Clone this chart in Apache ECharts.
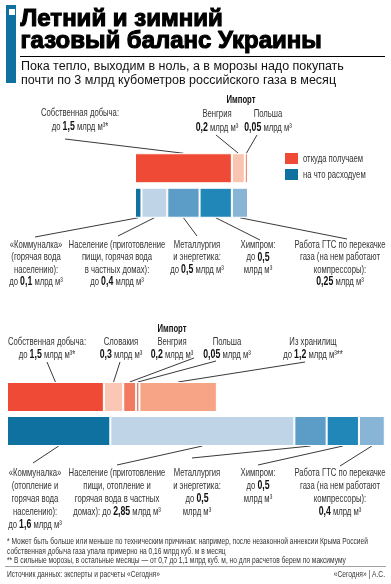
<!DOCTYPE html>
<html><head><meta charset="utf-8">
<script src="https://cdn.jsdelivr.net/npm/echarts@6/dist/echarts.min.js"></script>
<style>html,body{margin:0;padding:0;background:#fff}#c{width:391px;height:584px}</style>
</head><body><div id="c"></div>
<script>
// ---- data ----
const rows = ['откуда получаем', 'на что расходуем'];
const summerSupplyNames = ['Собственная добыча', 'Венгрия', 'Польша'];
const summerSupply = [1.5, 0.2, 0.05];
const summerUseNames = ['Коммуналка', 'Население', 'Металлургия и энергетика', 'Химпром', 'Работа ГТС'];
const summerUse = [0.1, 0.4, 0.5, 0.5, 0.25];
const winterSupplyNames = ['Собственная добыча', 'Словакия', 'Венгрия', 'Польша', 'Из хранилищ'];
const winterSupply = [1.5, 0.3, 0.2, 0.05, 1.2];
const winterUseNames = ['Коммуналка', 'Население', 'Металлургия и энергетика', 'Химпром', 'Работа ГТС'];
const winterUse = [1.6, 2.85, 0.5, 0.5, 0.4];

// ---- styles ----
const summerSupplyColors = ['#ef4a36', '#f9c4b0', '#f2906f'];
const winterSupplyColors = ['#ef4a36', '#f9c7b3', '#f27b5f', '#c9735a', '#f7a386'];
const useColors = ['#0f71a0', '#bfd5e7', '#5b9dc6', '#2186b8', '#88b4d6'];
const NF = "'Liberation Sans',Arial,sans-serif";
const BF = "'Liberation Sans',Arial,sans-serif";

function barSeries(g, names, vals, colors, row) {
  return vals.map((v, i) => ({
    type: 'bar', name: names[i], xAxisIndex: g, yAxisIndex: g, stack: 'g' + g,
    barWidth: 30, silent: true,
    itemStyle: { color: colors[i], borderColor: '#fff', borderWidth: 1 },
    data: row === 0 ? [v, '-'] : ['-', v]
  }));
}

const chart = echarts.init(document.getElementById('c'), null, { renderer: 'canvas' });
chart.setOption({
  animation: false,
  backgroundColor: '#fff',
  grid: [
    { left: 135, top: 151, width: 226, height: 69 },
    { left: 7, top: 380, width: 381, height: 68 }
  ],
  xAxis: [
    { type: 'value', gridIndex: 0, min: 0, max: 3.5, show: false },
    { type: 'value', gridIndex: 1, min: 0, max: 5.9, show: false }
  ],
  yAxis: [
    { type: 'category', gridIndex: 0, data: rows, inverse: true, show: false },
    { type: 'category', gridIndex: 1, data: rows, inverse: true, show: false }
  ],
  series: [].concat(
    barSeries(0, summerSupplyNames, summerSupply, summerSupplyColors, 0),
    barSeries(0, summerUseNames, summerUse, useColors, 1),
    barSeries(1, winterSupplyNames, winterSupply, winterSupplyColors, 0),
    barSeries(1, winterUseNames, winterUse, useColors, 1)
  )
});

// ---- annotations ----
const G = [];
const richB = { b: { fontFamily: BF, fontWeight: 'bold', fontSize: 12.5, fill: '#111', color: '#111' } };
function txt(x, y, text, o) {
  o = o || {};
  const sx = o.sx == null ? 0.7 : o.sx;
  const st = {
    text: text, x: 0, y: 0, fill: o.fill || '#333',
    fontFamily: o.ff || NF, fontSize: o.fs || 11, fontWeight: o.fw || 'normal',
    textAlign: o.al || 'center', align: o.al || 'center',
    textVerticalAlign: 'middle', verticalAlign: 'middle',
    rich: richB
  };
  if (o.stroke) { st.stroke = o.stroke; st.lineWidth = o.lw || 1; }
  G.push({ type: 'text', x: x, y: y, scaleX: sx, scaleY: 1, originX: 0, originY: 0, silent: true, style: st });
}
function block(x, y, lines, lh, o) { lines.forEach((l, i) => txt(x, y + i * lh, l, o)); }
function seg(x1, y1, x2, y2, c, w) {
  G.push({ type: 'line', silent: true, shape: { x1, y1, x2, y2 }, style: { stroke: c || '#222', lineWidth: w || 0.9 } });
}
function anchor(g, vals, idx, row) {
  let s = 0; for (let i = 0; i < idx; i++) s += vals[i];
  const p = chart.convertToPixel({ gridIndex: g }, [s + vals[idx] / 2, row]);
  return [p[0], row === 0 ? p[1] - 15 : p[1] + 15];
}
function leader(x, y, g, vals, idx, row) { const a = anchor(g, vals, idx, row); seg(x, y, a[0], a[1]); }

// header
G.push({ type: 'rect', shape: { x: 6, y: 5, width: 10, height: 78 }, style: { fill: '#0f71a0' } });
G.push({ type: 'rect', shape: { x: 9, y: 9, width: 6, height: 6 }, style: { fill: '#fff' } });
const tOpt = { ff: BF, fs: 24, fw: 'bold', fill: '#000', al: 'left', sx: 1, stroke: '#000', lw: 1.1 };
txt(20.5, 19, 'Летний и зимний', tOpt);
txt(20.5, 41, 'газовый баланс Украины', tOpt);
seg(20, 56.5, 385, 56.5, '#000', 1.2);
txt(21, 67, 'Пока тепло, выходим в ноль, а в морозы надо покупать', { ff: BF, fs: 12.5, fill: '#111', al: 'left', sx: 1 });
txt(21, 81, 'почти по 3 млрд кубометров российского газа в месяц', { ff: BF, fs: 12.5, fill: '#111', al: 'left', sx: 1 });

// summer chart
txt(241, 100, 'Импорт', { fs: 11, fw: 'bold', fill: '#111' });
block(80, 113, ['Собственная добыча:', 'до {b|1,5} млрд м³*'], 13.5);
leader(65, 139, 0, summerSupply, 0, 0);
block(217, 114, ['Венгрия', '{b|0,2} млрд м³'], 13.5);
leader(216, 135, 0, summerSupply, 1, 0);
block(268, 114, ['Польша', '{b|0,05} млрд м³'], 13.5);
leader(257, 135, 0, summerSupply, 2, 0);

G.push({ type: 'rect', shape: { x: 285, y: 153, width: 13, height: 11 }, style: { fill: '#ef4a36' } });
txt(303, 158.5, rows[0], { al: 'left' });
G.push({ type: 'rect', shape: { x: 285, y: 169, width: 13, height: 11 }, style: { fill: '#0f71a0' } });
txt(303, 174.5, rows[1], { al: 'left' });

block(36, 245, ['«Коммуналка»', '(горячая вода', 'населению):', 'до {b|0,1} млрд м³'], 12.3);
leader(35, 237, 0, summerUse, 0, 1);
block(117, 245, ['Население (приготовление', 'пищи, горячая вода', 'в частных домах):', 'до {b|0,4} млрд м³'], 12.3);
leader(118, 236, 0, summerUse, 1, 1);
block(197, 245, ['Металлургия', 'и энергетика:', 'до {b|0,5} млрд м³'], 12.3);
leader(197, 236, 0, summerUse, 2, 1);
block(258, 245, ['Химпром:', 'до {b|0,5}', 'млрд м³'], 12.3);
leader(260, 240, 0, summerUse, 3, 1);
block(340, 245, ['Работа ГТС по перекачке', 'газа (на нем работают', 'компрессоры):', '{b|0,25} млрд м³'], 12.3);
leader(347, 239, 0, summerUse, 4, 1);

// winter chart
txt(172, 329, 'Импорт', { fs: 11, fw: 'bold', fill: '#111' });
block(47, 342, ['Собственная добыча:', 'до {b|1,5} млрд м³*'], 12.5);
leader(47, 362, 1, winterSupply, 0, 0);
block(121, 342, ['Словакия', '{b|0,3} млрд м³'], 12.5);
leader(120, 362, 1, winterSupply, 1, 0);
block(172, 342, ['Венгрия', '{b|0,2} млрд м³'], 12.5);
leader(194, 358, 1, winterSupply, 2, 0);
block(227, 342, ['Польша', '{b|0,05} млрд м³'], 12.5);
leader(216, 361, 1, winterSupply, 3, 0);
block(313, 342, ['Из хранилищ', 'до {b|1,2} млрд м³**'], 12.5);
leader(305, 362, 1, winterSupply, 4, 0);

block(35, 473, ['«Коммуналка»', '(отопление и', 'горячая вода', 'населению):', 'до {b|1,6} млрд м³'], 13);
leader(33, 463, 1, winterUse, 0, 1);
block(117, 473, ['Население (приготовление', 'пищи, отопление и', 'горячая вода в частных', 'домах): до {b|2,85} млрд м³'], 13);
leader(117, 465, 1, winterUse, 1, 1);
block(197, 473, ['Металлургия', 'и энергетика:', 'до {b|0,5}', 'млрд м³'], 13);
leader(192, 458, 1, winterUse, 2, 1);
block(258, 473, ['Химпром:', 'до {b|0,5}', 'млрд м³'], 13);
leader(258, 465, 1, winterUse, 3, 1);
block(340, 473, ['Работа ГТС по перекачке', 'газа (на нем работают', 'компрессоры):', '{b|0,4} млрд м³'], 13);
leader(340, 466, 1, winterUse, 4, 1);

// footnotes
const fo = { fs: 8.5, al: 'left', fill: '#333', sx: 0.78 };
txt(7, 542, '* Может быть больше или меньше по техническим причинам: например, после незаконной аннексии Крыма Россией', fo);
txt(7, 552, 'собственная добыча газа упала примерно на 0,16 млрд куб. м в месяц', fo);
txt(7, 561, '** В сильные морозы, в остальные месяцы — от 0,7 до 1,1 млрд куб. м, но для расчетов берем по максимуму', fo);
seg(5, 566.5, 386, 566.5, '#888', 0.8);
txt(7, 574, 'Источник данных: эксперты и расчеты «Сегодня»', { fs: 9.5, al: 'left', fill: '#333', sx: 0.7 });
txt(385, 574, '«Сегодня» | А.С.', { fs: 9.5, al: 'right', fill: '#333', sx: 0.7 });

chart.setOption({ graphic: { elements: G } });
</script>
</body></html>
